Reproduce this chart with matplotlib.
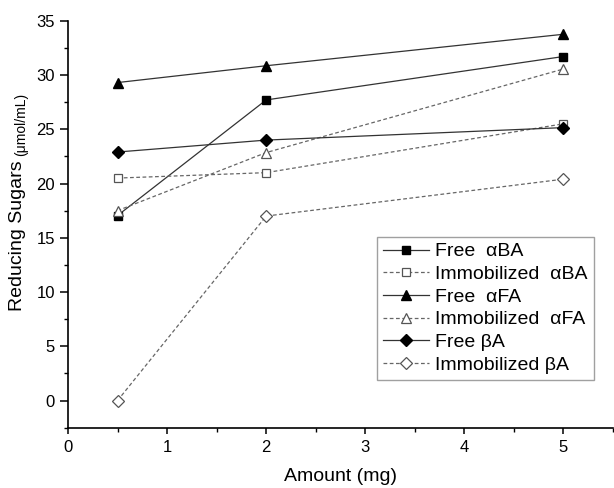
import matplotlib
matplotlib.use("Agg")
import matplotlib.pyplot as plt
from matplotlib.ticker import MultipleLocator

plt.rcParams['font.family'] = ['Liberation Sans', 'DejaVu Sans']

amount = [0.5, 2, 5]
free_aBA = [17.05, 27.7, 31.7]
imm_aBA = [20.5, 21.0, 25.5]
free_aFA = [29.3, 30.85, 33.75]
imm_aFA = [17.5, 22.85, 30.55]
free_bA = [22.9, 24.0, 25.15]
imm_bA = [0.0, 17.0, 20.4]

labels = ["Free  \u03b1BA", "Immobilized  \u03b1BA", "Free  \u03b1FA",
          "Immobilized  \u03b1FA", "Free \u03b2A", "Immobilized \u03b2A"]

fig = plt.figure(figsize=(6.14, 4.88), dpi=100)
ax = fig.add_axes([68/614, 1-427.7/488, (613-68)/614, (427.7-20.7)/488])

solid_c = '#333333'
dash_c = '#666666'
open_c = '#555555'

ax.plot(amount, free_aBA, '-', color=solid_c, lw=0.9, marker='s', ms=5.5,
        mfc='black', mec='black', label=labels[0])
ax.plot(amount, imm_aBA, '--', color=dash_c, lw=0.9, dashes=(3, 2), marker='s', ms=5.5,
        mfc='white', mec=open_c, mew=0.9, label=labels[1])
ax.plot(amount, free_aFA, '-', color=solid_c, lw=0.9, marker='^', ms=7.5,
        mfc='black', mec='black', label=labels[2])
ax.plot(amount, imm_aFA, '--', color=dash_c, lw=0.9, dashes=(3, 2), marker='^', ms=7.5,
        mfc='white', mec=open_c, mew=0.9, label=labels[3])
ax.plot(amount, free_bA, '-', color=solid_c, lw=0.9, marker='D', ms=6.5,
        mfc='black', mec='black', label=labels[4])
ax.plot(amount, imm_bA, '--', color=dash_c, lw=0.9, dashes=(3, 2), marker='D', ms=6.5,
        mfc='white', mec=open_c, mew=0.9, label=labels[5])

ax.set_xlim(0, 5.5)
ax.set_ylim(-2.5, 35)
ax.xaxis.set_major_locator(MultipleLocator(1))
ax.xaxis.set_minor_locator(MultipleLocator(0.5))
ax.yaxis.set_major_locator(MultipleLocator(5))
ax.yaxis.set_minor_locator(MultipleLocator(2.5))
ax.set_yticks([0, 5, 10, 15, 20, 25, 30, 35])

for s in ['top', 'right']:
    ax.spines[s].set_visible(False)
for s in ['left', 'bottom']:
    ax.spines[s].set_linewidth(1.2)

ax.tick_params(which='major', direction='out', width=1.1, labelsize=12, pad=4)
ax.tick_params(axis='x', which='major', length=4.5)
ax.tick_params(axis='y', which='major', length=5.5)
ax.tick_params(which='minor', direction='out', length=3, width=1.0)

ax.set_xlabel("Amount (mg)", fontsize=14)
ax.xaxis.set_label_coords(0.5, -0.1)

fig.text(17.5/614, 1-236/488, "Reducing Sugars", rotation=90, fontsize=14,
         ha='center', va='center')
fig.text(21/614, 1-124.5/488, "(\u03bcmol/mL)", rotation=90, fontsize=10,
         ha='center', va='center')

leg = ax.legend(loc='upper left', bbox_to_anchor=(0.567, 0.4686), borderaxespad=0,
                fontsize=14, frameon=True, fancybox=False, handlelength=2.35,
                handletextpad=0.35, labelspacing=0.26, borderpad=0.3)
leg.get_frame().set_edgecolor('#888888')
leg.get_frame().set_linewidth(1.0)

fig.savefig("out.png", dpi=100)
